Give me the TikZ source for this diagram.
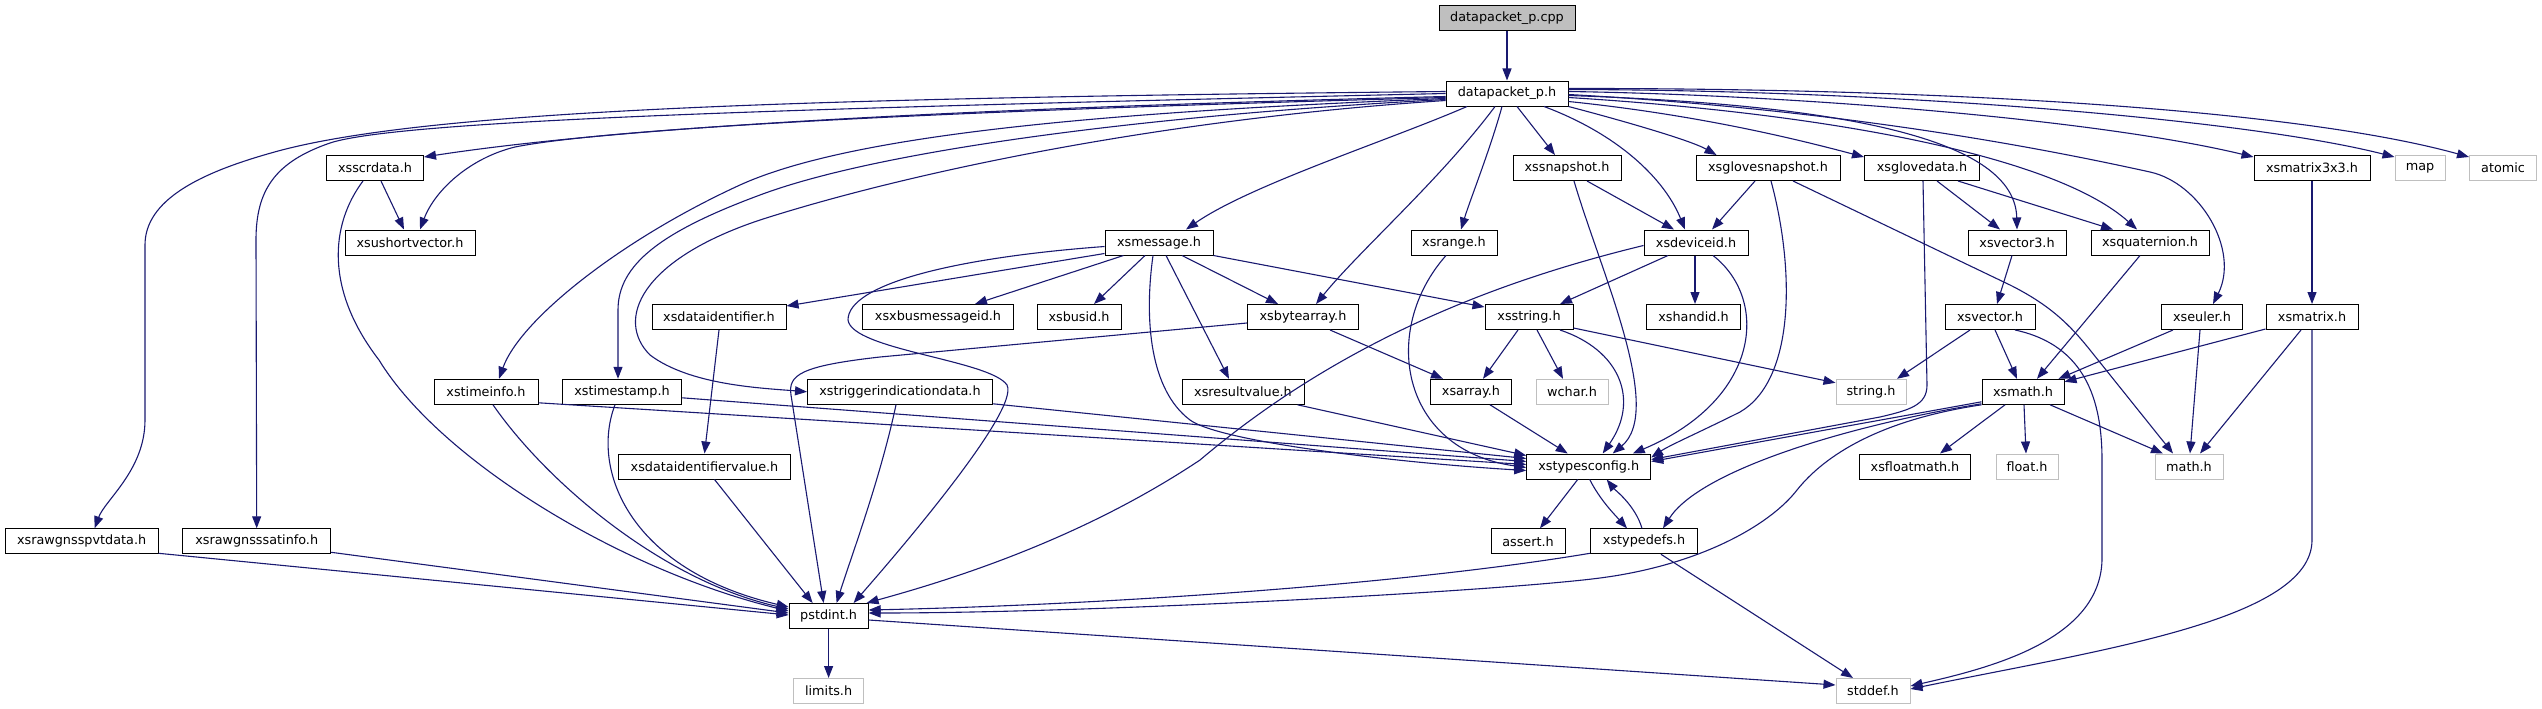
\documentclass[tikz,border=0pt]{standalone}
\usepackage{fontspec}
\setmainfont{DejaVu Sans}
\usetikzlibrary{arrows.meta,calc}
\definecolor{edgec}{HTML}{191970}
\definecolor{lgray}{HTML}{BFBFBF}
\tikzset{
 inc/.style={draw=black, line width=1pt, fill=white, minimum height=25pt, inner sep=0pt, font=\fontsize{12.8}{15}\selectfont},
 sysinc/.style={inc, draw=lgray},
 rootinc/.style={inc, fill=lgray},
 dep/.style={draw=edgec, line width=1.1pt, -{Triangle[length=12pt,width=9pt]}},
}
\begin{document}
\begin{tikzpicture}[x=1pt,y=-1pt]
\useasboundingbox (0,0) rectangle (2542,709);
% row 0,1
\node[rootinc, minimum width=136pt] (cpp) at (1507,18.5) {datapacket\_p.cpp};
\node[inc, minimum width=122pt] (dph) at (1507,93.5) {datapacket\_p.h};
% row 2
\node[inc, minimum width=97pt] (scr) at (375,168) {xsscrdata.h};
\node[inc, minimum width=108pt] (snap) at (1567,168) {xssnapshot.h};
\node[inc, minimum width=144pt] (gsnap) at (1768,168) {xsglovesnapshot.h};
\node[inc, minimum width=115pt] (gdata) at (1922,168) {xsglovedata.h};
\node[inc, minimum width=116pt] (m33) at (2312,168) {xsmatrix3x3.h};
\node[sysinc, minimum width=50pt] (map) at (2420,168) {map};
\node[sysinc, minimum width=67pt] (atomic) at (2503,168) {atomic};
% row 3
\node[inc, minimum width=130pt] (usv) at (410,242.5) {xsushortvector.h};
\node[inc, minimum width=108pt] (msg) at (1159,242.5) {xsmessage.h};
\node[inc, minimum width=86pt] (range) at (1454,242.5) {xsrange.h};
\node[inc, minimum width=104pt] (devid) at (1696,242.5) {xsdeviceid.h};
\node[inc, minimum width=98pt] (v3) at (2017,242.5) {xsvector3.h};
\node[inc, minimum width=118pt] (quat) at (2150,242.5) {xsquaternion.h};
% row 4
\node[inc, minimum width=134pt] (dataid) at (719,317) {xsdataidentifier.h};
\node[inc, minimum width=151pt] (xbus) at (938,317) {xsxbusmessageid.h};
\node[inc, minimum width=84pt] (busid) at (1079,317) {xsbusid.h};
\node[inc, minimum width=111pt] (barr) at (1303,317) {xsbytearray.h};
\node[inc, minimum width=88pt] (str) at (1529,317) {xsstring.h};
\node[inc, minimum width=94pt] (hand) at (1693.5,317) {xshandid.h};
\node[inc, minimum width=90pt] (vec) at (1990,317) {xsvector.h};
\node[inc, minimum width=81pt] (euler) at (2202,317) {xseuler.h};
\node[inc, minimum width=92pt] (matrix) at (2312,317) {xsmatrix.h};
% row 5
\node[inc, minimum width=104pt] (tinfo) at (486,391.8) {xstimeinfo.h};
\node[inc, minimum width=119pt] (tstamp) at (622,391.8) {xstimestamp.h};
\node[inc, minimum width=185pt] (trig) at (900,391.8) {xstriggerindicationdata.h};
\node[inc, minimum width=122pt] (resv) at (1243,391.8) {xsresultvalue.h};
\node[inc, minimum width=81pt] (arr) at (1471,391.8) {xsarray.h};
\node[sysinc, minimum width=72pt] (wchar) at (1572,391.8) {wchar.h};
\node[sysinc, minimum width=70pt] (strh) at (1871,391.8) {string.h};
\node[inc, minimum width=82pt] (xmath) at (2023,391.8) {xsmath.h};
% row 6
\node[inc, minimum width=172pt] (dataidv) at (704.5,466.5) {xsdataidentifiervalue.h};
\node[inc, minimum width=124pt] (tcfg) at (1588.7,466.5) {xstypesconfig.h};
\node[inc, minimum width=111pt] (fmath) at (1915,466.5) {xsfloatmath.h};
\node[sysinc, minimum width=62pt] (floath) at (2027,466.5) {float.h};
\node[sysinc, minimum width=68pt] (mathh) at (2189,466.5) {math.h};
% row 7
\node[inc, minimum width=153pt] (pvt) at (81.6,541.3) {xsrawgnsspvtdata.h};
\node[inc, minimum width=148pt] (sat) at (256.7,541.3) {xsrawgnsssatinfo.h};
\node[inc, minimum width=74pt] (assert) at (1528,541.3) {assert.h};
\node[inc, minimum width=107pt] (tdefs) at (1644,541.3) {xstypedefs.h};
% row 8,9
\node[inc, minimum width=79pt] (pstd) at (828.6,616) {pstdint.h};
\node[sysinc, minimum width=70pt] (limits) at (828.6,691) {limits.h};
\node[sysinc, minimum width=74pt] (stddef) at (1873,691) {stddef.h};

% ---- edges from the top
\draw[dep] (cpp) -- (dph);
\draw[dep] ($(dph.west)+(0,-2)$) .. controls (800,98) and (420,110) .. (271,153) .. controls (200,173) and (145,200) .. (145,245) -- (145,420) .. controls (145,470) and (105,500) .. ($(pvt.north)+(13,0)$);
\draw[dep] ($(dph.west)+(0,0)$) .. controls (800,108) and (400,120) .. (330,143) .. controls (275,162) and (256,190) .. (256,240) -- (sat.north);
\draw[dep] ($(dph.west)+(0,3)$) .. controls (900,110) and (600,130) .. ($(scr.north east)+(0,2)$);
\draw[dep] ($(dph.west)+(0,4)$) .. controls (900,112) and (600,130) .. (515,147) .. controls (470,158) and (435,190) .. ($(usv.north)+(10,0)$);
\draw[dep] ($(dph.west)+(0,5)$) .. controls (1100,112) and (850,135) .. (740,185) .. controls (620,240) and (520,320) .. ($(tinfo.north)+(13,0)$);
\draw[dep] ($(dph.west)+(0,6)$) .. controls (1150,115) and (880,150) .. (760,195) .. controls (660,232) and (618,265) .. (618,310) -- ($(tstamp.north)+(-4,0)$);
\draw[dep] ($(dph.west)+(0,7)$) .. controls (1150,120) and (900,175) .. (760,220) .. controls (640,260) and (615,320) .. (650,355) .. controls (690,385) and (760,388) .. (trig.west);
\draw[dep] ($(dph.south)+(-40,0)$) .. controls (1390,140) and (1250,185) .. ($(msg.north)+(27,0)$);
\draw[dep] ($(dph.south)+(-12,0)$) .. controls (1440,180) and (1360,250) .. ($(barr.north)+(13,0)$);
\draw[dep] ($(dph.south)+(-5,0)$) .. controls (1490,150) and (1470,200) .. ($(range.north)+(7,0)$);
\draw[dep] ($(dph.south)+(10,0)$) -- ($(snap.north)+(-12,0)$);
\draw[dep] ($(dph.south)+(37,0)$) .. controls (1620,135) and (1665,180) .. ($(devid.north)+(-11,0)$);
\draw[dep] (dph.south east) .. controls (1620,120) and (1690,140) .. ($(gsnap.north west)+(21,0)$);
\draw[dep] ($(dph.east)+(0,8)$) .. controls (1700,115) and (1800,140) .. ($(gdata.north west)+(0,2)$);
\draw[dep] ($(dph.east)+(0,2)$) .. controls (1850,105) and (2015,140) .. (v3.north);
\draw[dep] ($(dph.east)+(0,4)$) .. controls (1850,115) and (2060,160) .. ($(quat.north)+(-13,0)$);
\draw[dep] ($(dph.east)+(0,1)$) .. controls (1850,110) and (2050,150) .. (2150,172) .. controls (2200,183) and (2240,250) .. ($(euler.north)+(11,0)$);
\draw[dep] ($(dph.east)+(0,-2)$) .. controls (1800,95) and (2100,120) .. ($(m33.north west)+(0,2)$);
\draw[dep] ($(dph.east)+(0,-4)$) .. controls (1900,90) and (2250,120) .. ($(map.north west)+(0,2)$);
\draw[dep] ($(dph.east)+(0,-5)$) .. controls (1950,88) and (2300,110) .. ($(atomic.north west)+(0,2)$);

% ---- left part
\draw[dep] ($(scr.south)+(6,0)$) -- ($(usv.north)+(-6,0)$);
\draw[dep] ($(scr.south)+(-12,0)$) .. controls (330,225) and (325,290) .. (379,360) .. controls (440,460) and (620,570) .. ($(pstd.west)+(0,-5)$);
\draw[dep] ($(pvt.south east)+(0,-1)$) -- ($(pstd.west)+(0,-1)$);
\draw[dep] ($(sat.south east)+(0,-2)$) -- ($(pstd.west)+(0,-3)$);
\draw[dep] ($(tinfo.south)+(7,0)$) .. controls (545,480) and (660,580) .. ($(pstd.west)+(0,-7)$);
\draw[dep] ($(tinfo.east)+(0,11)$) -- ($(tcfg.west)+(0,-2)$);
\draw[dep] ($(tstamp.south)+(-7,0)$) .. controls (590,470) and (630,570) .. ($(pstd.west)+(0,-9)$);
\draw[dep] ($(tstamp.east)+(0,6)$) -- ($(tcfg.west)+(0,-5)$);
\draw[dep] ($(trig.south east)+(0,-1)$) -- ($(tcfg.west)+(0,-8)$);
\draw[dep] ($(trig.south)+(-4,0)$) .. controls (880,480) and (850,560) .. ($(pstd.north)+(8,0)$);
\draw[dep] (dataid.south) -- (dataidv.north);
\draw[dep] ($(dataidv.south)+(10,0)$) -- ($(pstd.north)+(-16,0)$);

% ---- xsmessage
\draw[dep] ($(msg.south west)+(0,-2)$) -- ($(dataid.north east)+(0,2)$);
\draw[dep] ($(msg.south west)+(19,0)$) -- ($(xbus.north)+(37,0)$);
\draw[dep] ($(msg.south)+(-14,0)$) -- ($(busid.north)+(15,0)$);
\draw[dep] ($(msg.south)+(23,0)$) -- ($(barr.north)+(-25,0)$);
\draw[dep] (msg.south east) -- ($(str.north west)+(0,3)$);
\draw[dep] ($(msg.south)+(7,0)$) -- ($(resv.north)+(-14,0)$);
\draw[dep] ($(msg.south)+(-6,0)$) .. controls (1144,320) and (1150,390) .. (1190,420) .. controls (1220,442) and (1400,463) .. ($(tcfg.west)+(0,4)$);
\draw[dep] ($(msg.west)+(0,4)$) .. controls (950,258) and (848,285) .. (848,320) .. controls (852,350) and (990,360) .. (1007,385) .. controls (1020,410) and (900,550) .. ($(pstd.north)+(25,0)$);

% ---- middle
\draw[dep] ($(range.south)+(-8,0)$) .. controls (1380,330) and (1400,450) .. ($(tcfg.west)+(0,1)$);
\draw[dep] ($(barr.south)+(27,0)$) -- ($(arr.north)+(-28,0)$);
\draw[dep] ($(barr.west)+(0,6)$) -- (880,357) .. controls (800,366) and (788,375) .. (791,395) -- ($(pstd.north)+(-5,0)$);
\draw[dep] ($(str.south)+(-11,0)$) -- ($(arr.north)+(12,0)$);
\draw[dep] ($(str.south)+(8,0)$) -- ($(wchar.north)+(-9,0)$);
\draw[dep] ($(str.south)+(31,0)$) .. controls (1620,350) and (1640,400) .. ($(tcfg.north)+(14,0)$);
\draw[dep] ($(str.south east)+(0,-2)$) -- ($(strh.west)+(0,-9)$);
\draw[dep] ($(resv.south east)+(-7,0)$) -- ($(tcfg.west)+(0,-11)$);
\draw[dep] ($(arr.south)+(19,0)$) -- ($(tcfg.north)+(-21,0)$);

% ---- deviceid, snapshots
\draw[dep] ($(devid.south)+(-28,0)$) -- ($(str.north)+(31,0)$);
\draw[dep] ($(devid.south)+(-1,0)$) -- ($(hand.north)+(1.5,0)$);
\draw[dep] ($(devid.south)+(17,0)$) .. controls (1770,300) and (1760,400) .. ($(tcfg.north)+(44,0)$);
\draw[dep] ($(devid.west)+(0,3)$) .. controls (1480,285) and (1330,350) .. (1200,460) .. controls (1080,540) and (950,580) .. ($(pstd.north east)+(-2,0)$);
\draw[dep] ($(snap.south)+(20,0)$) -- ($(devid.north)+(-22,0)$);
\draw[dep] ($(snap.south)+(7,0)$) .. controls (1600,270) and (1665,410) .. ($(tcfg.north)+(24,0)$);
\draw[dep] ($(gsnap.south)+(-13,0)$) -- ($(devid.north)+(16,0)$);
\draw[dep] ($(gsnap.south)+(3,0)$) .. controls (1795,270) and (1795,380) .. (1740,412) .. controls (1700,432) and (1670,445) .. ($(tcfg.east)+(0,-9)$);
\draw[dep] ($(gsnap.south)+(25,0)$) -- (2010,285) .. controls (2050,305) and (2070,325) .. (2090,350) -- ($(mathh.north)+(-16,0)$);
\draw[dep] ($(gdata.south)+(15,0)$) -- ($(v3.north)+(-17,0)$);
\draw[dep] ($(gdata.south)+(36,0)$) -- ($(quat.north)+(-37,0)$);
\draw[dep] ($(gdata.south)+(1,0)$) -- (1927,385) .. controls (1927,405) and (1910,410) .. (1880,417) -- ($(tcfg.east)+(0,-7)$);

% ---- math part
\draw[dep] ($(v3.south)+(-5,0)$) -- ($(vec.north)+(7,0)$);
\draw[dep] ($(quat.south)+(-10,0)$) -- ($(xmath.north)+(14,0)$);
\draw[dep] ($(vec.south)+(-20,0)$) -- ($(strh.north)+(26,0)$);
\draw[dep] ($(vec.south)+(5,0)$) -- ($(xmath.north)+(-6,0)$);
\draw[dep] ($(vec.south)+(25,0)$) .. controls (2085,345) and (2102,400) .. (2102,460) -- (2102,560) .. controls (2100,640) and (1990,668) .. ($(stddef.east)+(0,-5)$);
\draw[dep] ($(euler.south west)+(12,0)$) -- ($(xmath.north east)+(-6,0)$);
\draw[dep] ($(matrix.south west)+(0,-1)$) -- ($(xmath.north east)+(0,3)$);
\draw[dep] ($(euler.south)+(-2,0)$) -- ($(mathh.north)+(1,0)$);
\draw[dep] ($(matrix.south)+(-11,0)$) -- ($(mathh.north)+(11,0)$);
\draw[dep] (matrix.south) -- (2312,540) .. controls (2312,620) and (2100,650) .. ($(stddef.east)+(0,-2)$);
\draw[dep] (m33.south) -- (matrix.north);
\draw[dep] ($(xmath.south)+(-18,0)$) -- ($(fmath.north)+(25,0)$);
\draw[dep] ($(xmath.south)+(1,0)$) -- ($(floath.north)+(-1,0)$);
\draw[dep] ($(xmath.south)+(27,0)$) -- ($(mathh.north)+(-26,0)$);
\draw[dep] ($(xmath.south west)+(0,-3)$) -- ($(tcfg.east)+(0,-5)$);
\draw[dep] ($(xmath.south west)+(0,-1)$) .. controls (1850,425) and (1700,470) .. ($(tdefs.north)+(19,0)$);
\draw[dep] (xmath.south west) .. controls (1880,420) and (1825,455) .. (1797,490) .. controls (1770,525) and (1700,565) .. (1600,578) .. controls (1500,591) and (1100,613) .. ($(pstd.east)+(0,-3)$);

% ---- bottom
\draw[dep] ($(tdefs.south west)+(0,-1)$) .. controls (1400,585) and (1100,605) .. ($(pstd.east)+(0,-6)$);
\draw[dep] ($(tdefs.south)+(17,0)$) -- ($(stddef.north)+(-20,0)$);
\draw[dep] ($(tdefs.north)+(-2,0)$) .. controls (1635,505) and (1615,490) .. ($(tcfg.south)+(18,0)$);
\draw[dep] ($(tcfg.south)+(1,0)$) .. controls (1600,500) and (1615,515) .. ($(tdefs.north)+(-17,0)$);
\draw[dep] ($(tcfg.south)+(-11,0)$) -- ($(assert.north)+(12,0)$);
\draw[dep] (pstd) -- (limits);
\draw[dep] ($(pstd.east)+(0,4)$) -- ($(stddef.west)+(0,-6)$);
\end{tikzpicture}
\end{document}
